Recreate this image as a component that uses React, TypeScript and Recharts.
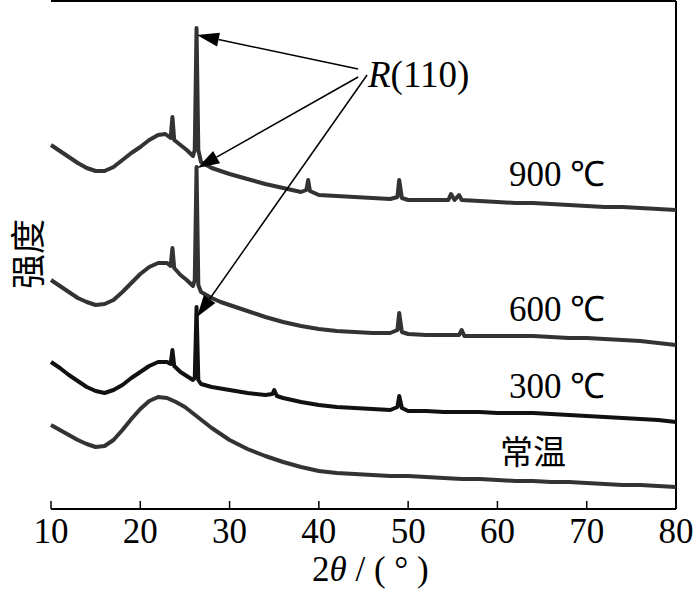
import React from 'react';
import { LineChart, Line, XAxis, YAxis, ReferenceLine } from 'recharts';

// x = 2θ (°); v = intensity in plot units (offset stacked curves)
const xTicks = [10, 20, 30, 40, 50, 60, 70, 80];

const x900 = [10, 11, 12, 13, 14, 15, 16, 17, 18, 19, 20, 21, 22, 22.8, 23.4, 23.6, 23.8, 24.5, 25.2, 25.9, 26.1, 26.3, 26.5, 26.8, 28, 29, 30, 32, 34, 36, 38, 38.6, 38.8, 39, 40, 42, 44, 46, 48, 48.8, 49, 49.3, 50, 52, 54.5, 54.8, 55.2, 55.7, 56, 58, 60, 62, 64, 66, 68, 70, 72, 74, 76, 78, 80];
const y900 = [364, 358, 352, 346, 341, 338, 338, 342, 349, 356, 362, 369, 374, 375, 371, 392, 369, 364, 359, 353, 359, 481, 359, 347, 341, 338, 335, 330, 325, 321, 317, 319, 329, 318, 314, 313, 312, 311, 310, 312, 329, 311, 309, 309, 309, 315, 309, 314, 309, 308, 307, 306, 306, 305, 304, 303, 302, 302, 301, 300, 299];

const x600 = [10, 11, 12, 13, 14, 15, 16, 17, 18, 19, 20, 21, 22, 23, 23.4, 23.6, 23.8, 24.5, 25.2, 25.9, 26.1, 26.3, 26.5, 26.8, 28, 29, 30, 32, 34, 36, 38, 40, 42, 44, 46, 48, 48.8, 49, 49.3, 50, 52, 54, 55.7, 56, 56.3, 58, 60, 62, 64, 66, 68, 70, 72, 74, 76, 78, 80];
const y600 = [229, 223, 217, 211, 207, 204, 205, 209, 217, 226, 235, 242, 246, 246, 243, 261, 241, 234, 229, 223, 229, 342, 224, 217, 211, 207, 204, 198, 192, 187, 183, 180, 178, 177, 176, 176, 179, 196, 177, 175, 174, 174, 174, 179, 173, 173, 173, 173, 173, 172, 171, 171, 170, 169, 168, 166, 164];

const x300 = [10, 11, 12, 13, 14, 15, 16, 17, 18, 19, 20, 21, 22, 23, 23.4, 23.6, 23.8, 24.5, 25.2, 25.9, 26.1, 26.3, 26.5, 26.8, 28, 30, 32, 34, 34.8, 35, 35.3, 36, 38, 40, 42, 44, 46, 48, 48.8, 49, 49.3, 50, 52, 54, 56, 58, 60, 62, 64, 66, 68, 70, 72, 74, 76, 78, 80];
const y300 = [147, 141, 134, 128, 122, 118, 116, 119, 124, 131, 137, 143, 147, 147, 145, 159, 143, 137, 133, 129, 131, 202, 129, 125, 122, 119, 116, 114, 115, 119, 113, 111, 107, 104, 102, 101, 100, 99, 102, 113, 101, 98, 98, 97, 97, 97, 96, 96, 96, 95, 94, 93, 92, 91, 90, 89, 87];

const xRT = [10, 11, 12, 13, 14, 15, 16, 17, 18, 19, 20, 21, 22, 23, 24, 25, 26, 27, 28, 29, 30, 32, 34, 36, 38, 40, 42, 44, 46, 48, 50, 52, 54, 56, 58, 60, 62, 64, 66, 68, 70, 72, 74, 76, 78, 80];
const yRT = [84, 79, 74, 69, 65, 62, 63, 69, 79, 90, 100, 108, 112, 111, 107, 102, 95, 88, 81, 75, 69, 60, 53, 47, 42, 38, 36, 35, 34, 33, 33, 32, 31, 30, 30, 29, 28, 28, 27, 27, 26, 25, 24, 24, 23, 22];

// R(110) arrows: label anchor -> peak tips
const arrowFrom = [
  { x: 44.4, v: 440 },
  { x: 44.4, v: 432 },
  { x: 45.4, v: 434 },
];
const arrowTo = [
  { x: 26.35, v: 474 },
  { x: 26.4, v: 341 },
  { x: 26.35, v: 192 },
];

const toRows = (xs: number[], ys: number[]) => xs.map((x, i) => ({ x, v: ys[i] }));

const series = [
  { name: '900', data: toRows(x900, y900), color: '#333' },
  { name: '600', data: toRows(x600, y600), color: '#333' },
  { name: '300', data: toRows(x300, y300), color: '#111' },
  { name: 'RT', data: toRows(xRT, yRT), color: '#333' },
];

const SERIF = 'Liberation Serif';

function XTick({ x, y, payload }: any) {
  return (
    <g>
      <line x1={x} y1={y} x2={x} y2={y - 8} stroke="#000" strokeWidth={1.5} />
      <text x={x} y={y + 34} textAnchor="middle" fontFamily={SERIF} fontSize={35} fill="#000">
        {payload.value}
      </text>
    </g>
  );
}

function Arrow(props: any) {
  const { x1, y1, x2, y2 } = props;
  const ang = Math.atan2(y2 - y1, x2 - x1);
  const len = 22;
  const half = 7;
  const bx = x2 - len * Math.cos(ang);
  const by = y2 - len * Math.sin(ang);
  const px = -Math.sin(ang) * half;
  const py = Math.cos(ang) * half;
  return (
    <g>
      <line x1={x1} y1={y1} x2={bx} y2={by} stroke="#000" strokeWidth={1.5} />
      <polygon points={`${x2},${y2} ${bx + px},${by + py} ${bx - px},${by - py}`} fill="#000" />
    </g>
  );
}

const textStyle: React.CSSProperties = {
  position: 'absolute',
  fontFamily: SERIF,
  fontSize: 35,
  lineHeight: 1,
  color: '#000',
  whiteSpace: 'nowrap',
};

export default function App() {
  return (
    <div style={{ position: 'absolute', left: 0, top: 0, width: 700, height: 593, background: '#fff' }}>
      <LineChart width={700} height={593} margin={{ top: 1, right: 24, left: 51, bottom: 0 }}>
        <XAxis
          type="number"
          dataKey="x"
          domain={[10, 80]}
          ticks={xTicks}
          allowDuplicatedCategory={false}
          height={84}
          tickSize={0}
          tickMargin={0}
          tickLine={false}
          tick={<XTick />}
          axisLine={{ stroke: '#000', strokeWidth: 2 }}
        />
        <YAxis
          type="number"
          domain={[0, 508]}
          width={0}
          tick={false}
          tickLine={false}
          axisLine={{ stroke: '#000', strokeWidth: 2 }}
        />
        <ReferenceLine y={508} stroke="#000" strokeWidth={2} />
        <ReferenceLine x={80} stroke="#000" strokeWidth={2} />
        {series.map((s) => (
          <Line
            key={s.name}
            data={s.data}
            dataKey="v"
            type="linear"
            stroke={s.color}
            strokeWidth={4}
            strokeLinejoin="round"
            dot={false}
            isAnimationActive={false}
          />
        ))}
        {arrowFrom.map((f, i) => (
          <ReferenceLine
            key={i}
            segment={[{ x: f.x, y: f.v }, { x: arrowTo[i].x, y: arrowTo[i].v }]}
            shape={<Arrow />}
            ifOverflow="visible"
          />
        ))}
      </LineChart>
      <div style={{ ...textStyle, left: 368, top: 56, fontSize: 37 }}>
        <i>R</i>(110)
      </div>
      <div style={{ ...textStyle, left: 509, top: 157 }}>900 ℃</div>
      <div style={{ ...textStyle, left: 509, top: 292 }}>600 ℃</div>
      <div style={{ ...textStyle, left: 509, top: 369 }}>300 ℃</div>
      <div style={{ ...textStyle, left: 500, top: 434, fontFamily: '"Noto Sans CJK SC", sans-serif', fontSize: 33 }}>常温</div>
      <div style={{ ...textStyle, left: 312, top: 552 }}>
        2<i>θ</i> / ( ° )
      </div>
      <div
        style={{
          ...textStyle,
          left: 25,
          top: 254,
          transform: 'translate(-50%, -50%) rotate(-90deg)',
          fontFamily: '"Noto Sans CJK SC", sans-serif',
          fontSize: 35,
        }}
      >
        强度
      </div>
    </div>
  );
}
